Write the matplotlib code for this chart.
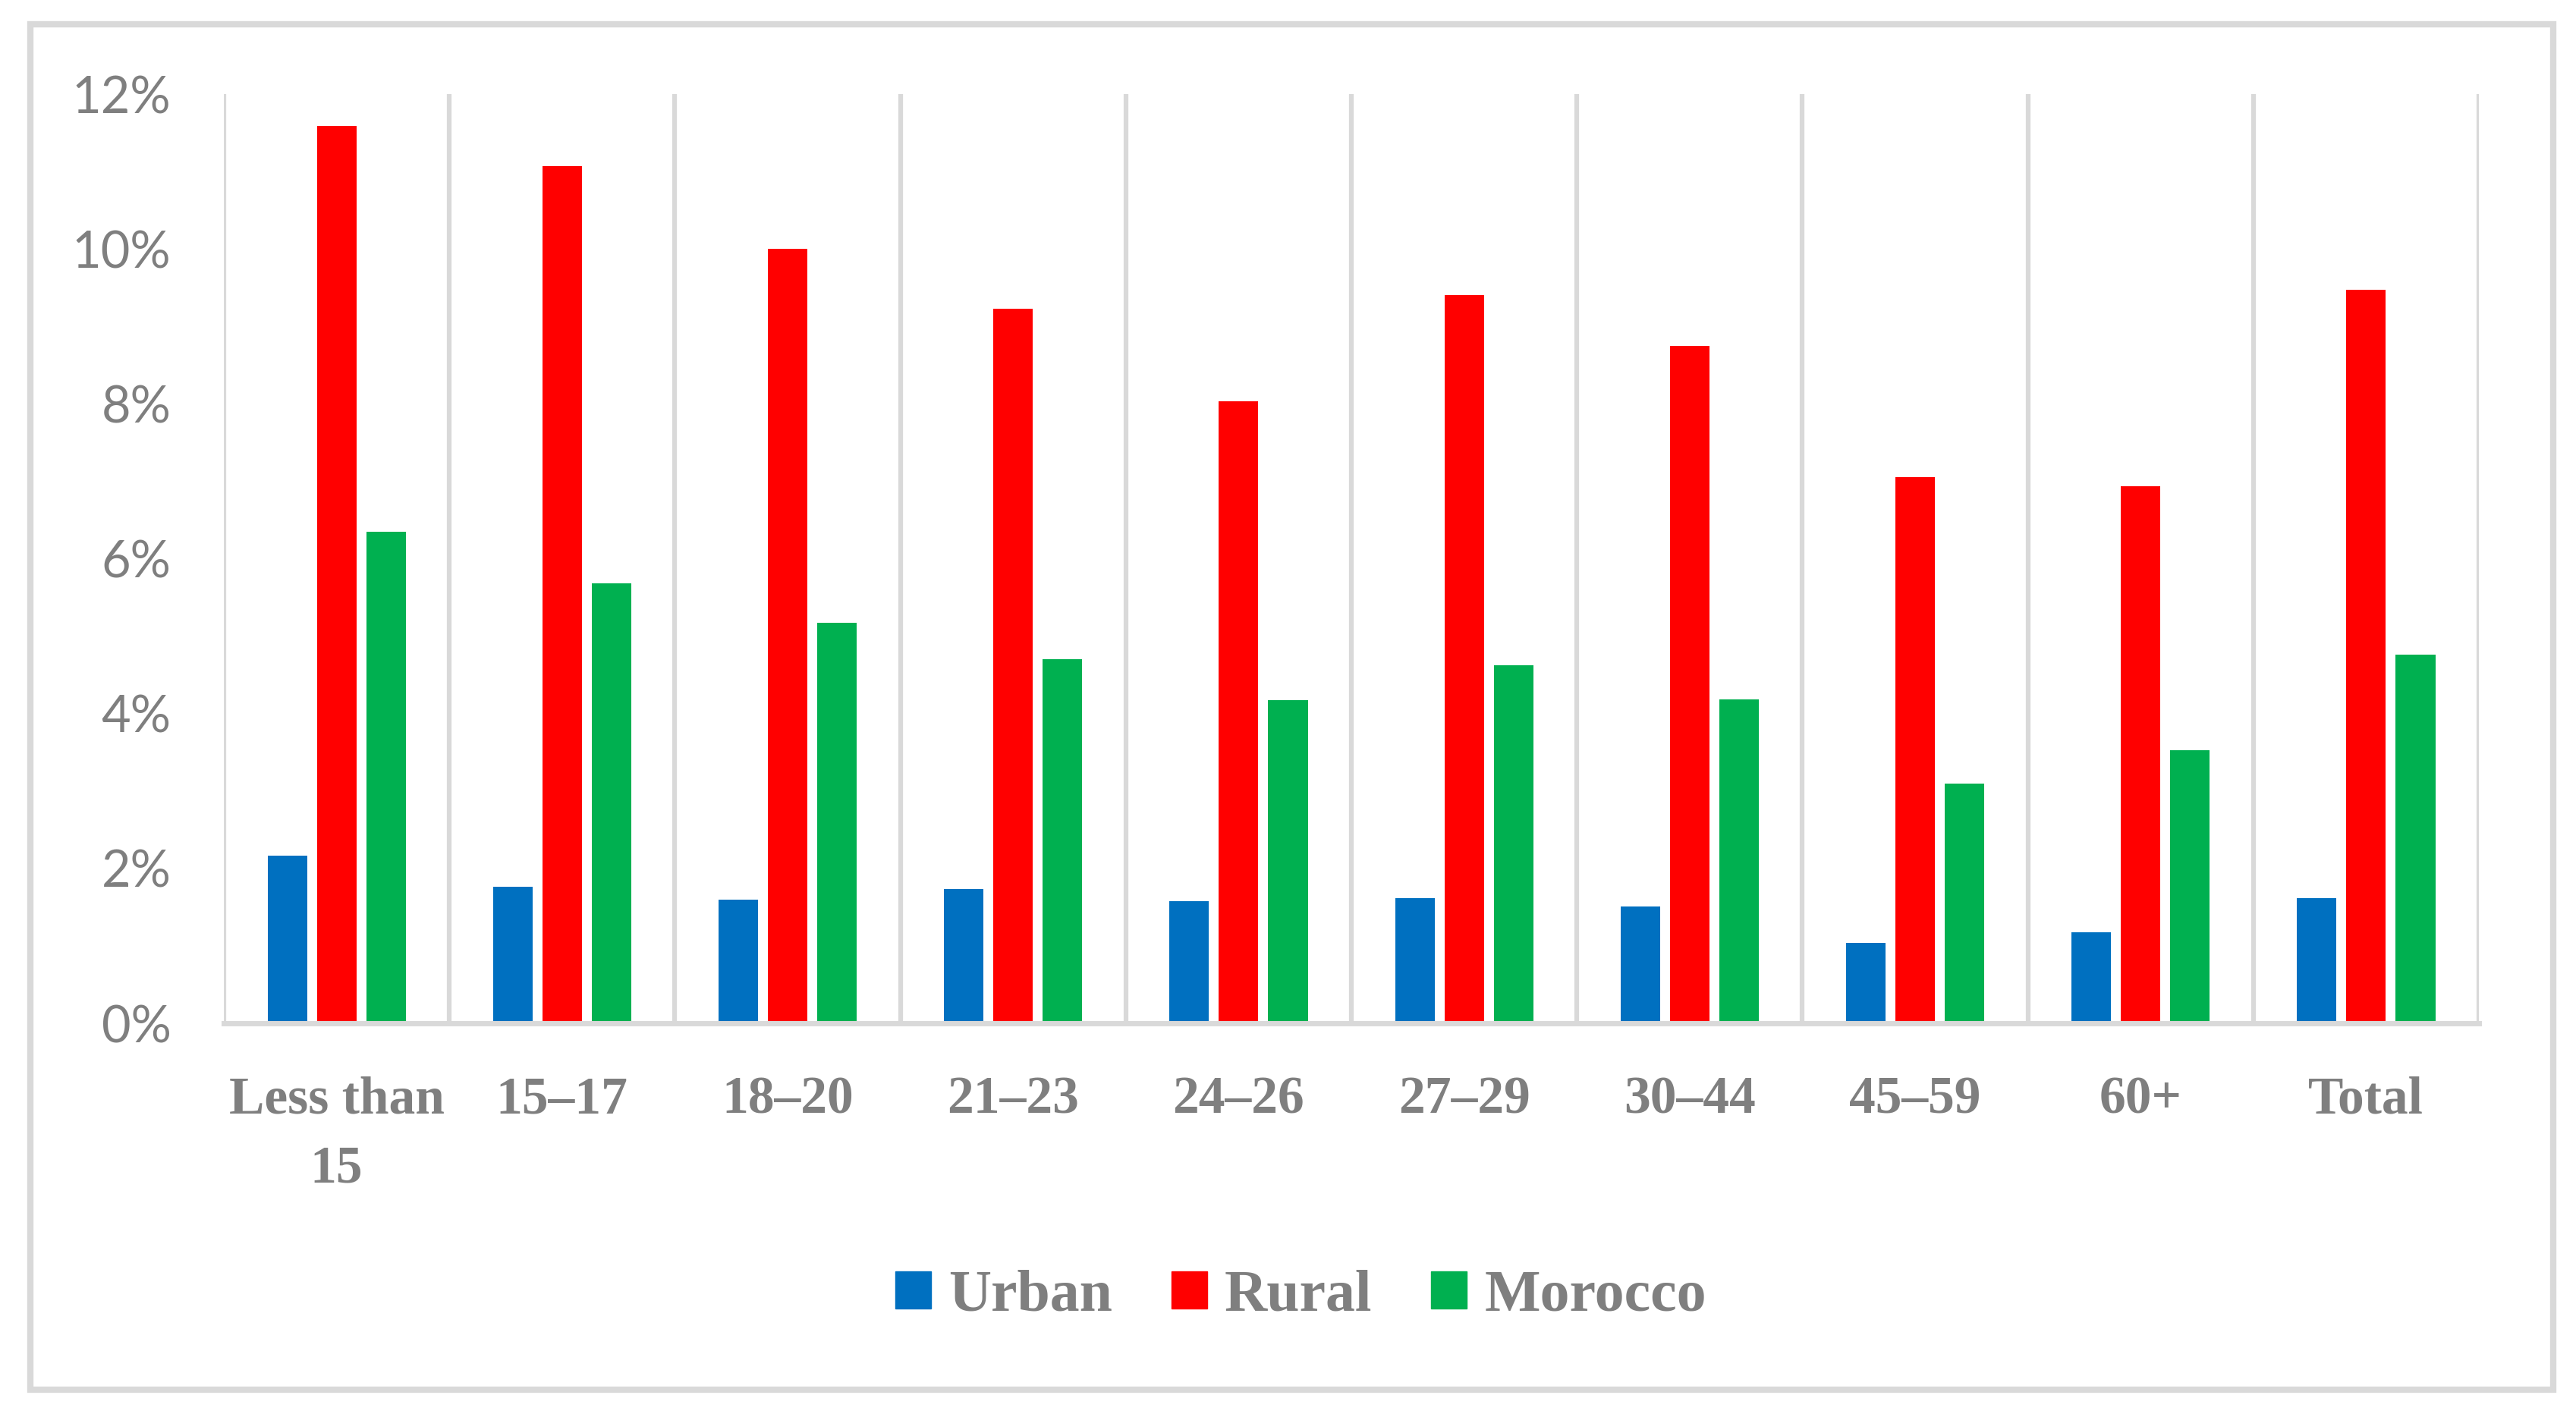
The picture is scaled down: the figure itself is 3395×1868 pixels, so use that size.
import matplotlib.pyplot as plt
import matplotlib.patches as mpatches
import numpy as np

# Age groups and rates (%)
categories = ['Less than\n15', '15–17', '18–20', '21–23', '24–26',
              '27–29', '30–44', '45–59', '60+', 'Total']
urban = [2.17, 1.76, 1.60, 1.73, 1.58, 1.62, 1.51, 1.04, 1.18, 1.62]
rural = [11.59, 11.07, 10.00, 9.23, 8.03, 9.40, 8.75, 7.05, 6.94, 9.47]
morocco = [6.35, 5.68, 5.17, 4.70, 4.17, 4.62, 4.18, 3.10, 3.53, 4.76]

series_names = ['Urban', 'Rural', 'Morocco']
colors = ['#0070C0', '#FF0000', '#00B050']
grid_color = '#D9D9D9'
text_color = '#7F7F7F'

fig = plt.figure(figsize=(33.95, 18.68), dpi=100)
ax = fig.add_axes([0.0869, 0.2778, 0.8754, 0.6558])

x = np.arange(len(categories))
width = 0.175
offset = 0.219
for i, (vals, name, col) in enumerate(zip([urban, rural, morocco], series_names, colors)):
    ax.bar(x + (i - 1) * offset, vals, width=width, color=col, label=name, zorder=3)

ax.set_xlim(-0.5, len(categories) - 0.5)
ax.set_ylim(0, 12)
ax.set_yticks(np.arange(0, 13, 2))
ax.set_yticklabels([f'{v}%' for v in range(0, 13, 2)])

# vertical separators between categories
for b in np.arange(-0.5, len(categories), 1.0):
    ax.axvline(b, color=grid_color, lw=4.5, zorder=1)

for s in ['top', 'right', 'left']:
    ax.spines[s].set_visible(False)
ax.spines['bottom'].set_color(grid_color)
ax.spines['bottom'].set_linewidth(5)
ax.spines['bottom'].set_zorder(4)

ax.set_xticks(x)
ax.set_xticklabels(categories, fontfamily='Liberation Serif', fontweight='bold',
                   fontsize=50, color=text_color, linespacing=1.55)
ax.tick_params(axis='x', length=0, pad=50)
ax.tick_params(axis='y', length=0, pad=50, labelsize=48, labelcolor=text_color)
for lbl in ax.get_yticklabels():
    lbl.set_fontfamily('Lato')

handles = [mpatches.Patch(color=c, label=n) for c, n in zip(colors, series_names)]
fig.legend(handles=handles, loc='center', bbox_to_anchor=(0.505, 0.085), ncol=3,
           frameon=False, handlelength=0.6, handleheight=0.6, handletextpad=0.3,
           columnspacing=1.0,
           prop={'family': 'Liberation Serif', 'weight': 'bold', 'size': 56},
           labelcolor=text_color)

# outer chart border
border = mpatches.Rectangle((40 / 3395, 1 - 1832 / 1868), (3365 - 40) / 3395, (1832 - 32) / 1868,
                            transform=fig.transFigure, fill=False, edgecolor=grid_color, lw=6)
fig.patches.append(border)

fig.savefig('out.png', dpi=100, facecolor='white')
